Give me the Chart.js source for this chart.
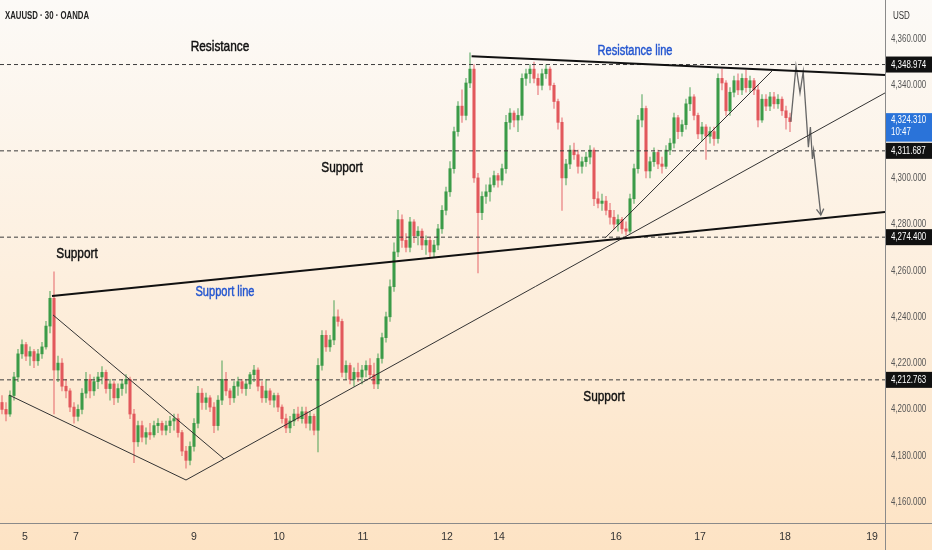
<!DOCTYPE html>
<html><head><meta charset="utf-8">
<script src="https://cdn.jsdelivr.net/npm/chart.js@4.4.1/dist/chart.umd.min.js"></script>
<style>html,body{margin:0;padding:0;background:#fdf0e0;overflow:hidden}canvas{display:block}</style>
</head><body>
<canvas id="c" width="932" height="550" style="width:932px;height:550px"></canvas>
<script>
// ---- Data (30-min candles, XAUUSD) ----
const opens = [
4203,4200,4198,4206,4214,4224,4228,4223,4225,4221,
4224,4227,4236,4248,4217,4220,4210,4208,4201,4197,
4200,4207,4213,4208,4212,4214,4216,4209,4211,4205,
4209,4211,4213,4198,4186,4193,4188,4190,4189,4193,
4194,4191,4193,4195,4196,4190,4182,4178,4184,4194,
4207,4203,4205,4201,4193,4204,4213,4208,4205,4210,
4212,4209,4211,4215,4217,4210,4205,4208,4204,4206,
4201,4196,4192,4195,4198,4196,4199,4194,4197,4191,
4219,4232,4227,4230,4240,4238,4216,4219,4213,4216,
4214,4217,4219,4215,4211,4222,4231,4240,4253,4268,
4282,4273,4270,4281,4275,4277,4271,4273,4268,4271,
4278,4286,4294,4304,4320,4331,4327,4341,4347,4300,
4285,4292,4294,4297,4301,4299,4304,4324,4328,4325,
4327,4343,4345,4347,4343,4340,4345,4347,4340,4333,
4324,4300,4306,4312,4310,4305,4307,4309,4312,4291,
4289,4290,4286,4283,4280,4282,4278,4277,4291,4304,
4325,4330,4303,4307,4311,4306,4305,4312,4315,4326,
4320,4323,4332,4335,4327,4319,4322,4318,4320,4317,
4343,4341,4329,4337,4342,4338,4343,4339,4342,4338,
4325,4334,4331,4335,4332,4334,4329,4326];
const highs = [
4206,4203,4208,4216,4226,4230,4229,4227,4226,4226,
4229,4238,4251,4259.4,4223,4222,4213,4209,4203,4202,
4209,4216,4215,4214,4216,4218.5,4217,4213,4212,4211,
4213,4215,4214,4200,4195,4195,4192,4194,4195,4196,
4195,4195,4197,4198,4198,4191,4184,4186,4196,4210,
4209,4207,4206,4203,4206,4221,4216,4209,4212,4214,
4213,4213,4216,4219,4218,4212,4213,4209,4207,4207,
4202,4198,4197,4200,4201,4201,4201,4199,4198,4222,
4234,4234,4232,4247,4243,4239,4221,4220,4218,4220,
4219,4221,4222,4220,4224,4233,4242,4256,4272,4286,
4284,4276,4283,4282,4279,4278,4275,4274,4273,4280,
4288,4296,4307,4322,4333,4338,4343,4354,4349,4302,
4294,4297,4300,4303,4302,4306,4327,4330,4329,4330,
4345,4347,4349,4350,4345,4347,4349,4348,4341,4334,
4326,4308,4314,4315,4312,4309,4311,4314,4313,4294,
4293,4292,4289,4286,4284,4283,4281,4293,4306,4327,
4336,4331,4309,4313,4312,4309,4314,4317,4328,4327,
4325,4334,4339,4336,4328,4324,4323,4322,4322,4345,
4347,4342,4339,4344,4345,4345,4346.6,4344,4343,4340,
4336,4336,4337,4337,4336,4335,4331,4328];
const lows = [
4198,4195,4197,4204,4212,4222,4221,4219,4218,4219,
4222,4226,4233,4198,4212,4208,4205,4199,4194,4195,
4198,4205,4205,4206,4209,4211,4207,4204,4202,4203,
4206,4207,4196,4177,4184,4186,4185,4187,4188,4190,
4189,4189,4190,4191,4188,4180,4174.6,4176,4182,4192,
4200,4200,4199,4190,4191,4202,4206,4202,4203,4206,
4207,4206,4209,4212,4208,4203,4203,4202,4201,4199,
4194,4190,4190,4193,4195,4194,4192,4191,4189,4181.6,
4217,4225,4225,4228,4236,4214,4213,4211,4210,4212,
4211,4214,4213,4209,4209,4220,4229,4238,4251,4266,
4270,4268,4268,4272,4271,4269,4267,4266,4266,4269,
4276,4284,4292,4302,4318,4324,4325,4339,4298,4259,
4282,4289,4290,4296,4296,4297,4302,4321,4322,4320,
4325,4340,4341,4341,4336,4338,4343,4338,4330,4321,
4286,4297,4304,4308,4302,4302,4305,4306,4288,4287,
4286,4284,4280,4278,4277,4276,4275.3,4276,4289,4302,
4322,4300,4300,4305,4304,4302,4304,4310,4313,4317,
4318,4321,4329,4325,4317,4316,4308,4315,4314,4315,
4338,4327,4327,4335,4336,4336,4337,4337,4336,4322,
4324,4329,4329,4330,4330,4327,4321,4320];
const closes = [
4200,4198,4206,4214,4224,4228,4223,4225,4221,4224,
4227,4236,4248,4217,4220,4210,4208,4201,4197,4200,
4207,4213,4208,4212,4214,4216,4209,4211,4205,4209,
4211,4213,4198,4186,4193,4188,4190,4189,4193,4194,
4191,4193,4195,4196,4190,4182,4178,4184,4194,4207,
4203,4205,4201,4193,4204,4213,4208,4205,4210,4212,
4209,4211,4215,4217,4210,4205,4208,4204,4206,4201,
4196,4192,4195,4198,4196,4199,4194,4197,4191,4219,
4232,4227,4230,4240,4238,4216,4219,4213,4216,4214,
4217,4219,4215,4211,4222,4231,4240,4253,4268,4282,
4273,4270,4281,4275,4277,4271,4273,4268,4271,4278,
4286,4294,4304,4320,4331,4327,4341,4347,4300,4285,
4292,4294,4297,4301,4299,4304,4324,4328,4325,4327,
4343,4345,4347,4343,4340,4345,4347,4340,4333,4324,
4300,4306,4312,4310,4305,4307,4309,4312,4291,4289,
4290,4286,4283,4280,4282,4278,4277,4291,4304,4325,
4330,4303,4307,4311,4306,4305,4312,4315,4326,4320,
4323,4332,4335,4327,4319,4322,4318,4320,4317,4343,
4341,4329,4337,4342,4338,4343,4339,4342,4338,4325,
4334,4331,4335,4332,4334,4329,4326,4324.31];

// x-axis date ticks (in candle-index units) and labels
const dayTicks  = [5.75, 18.5, 48, 69.25, 90.25, 111.25, 124.25, 153.5, 174.5, 195.75, 217.5];
const dayLabels = ['5','7','9','10','11','12','14','16','17','18','19'];
// price axis ticks (4,320 is hidden behind the last-price tag)
const priceTicks = [4160,4180,4200,4220,4240,4260,4280,4300,4340,4360];
// horizontal dashed levels
const levels = [4348.974, 4311.687, 4274.4, 4212.763];
const lastPrice = 4324.31;
const lastTime = '10:47';
// drawn trend lines [candle index, price]
const resistanceLine = [[117.4, 4352.6], [220.75, 4344.5]];
const supportLine    = [[12.5, 4249.0], [220.75, 4285.3]];
const channelLow     = [[1.75, 4206.2], [46, 4169.5]];
const channelHigh    = [[12.75, 4240.8], [55.5, 4178.6]];
const risingLine     = [[46, 4169.5], [220.75, 4336.7]];
const steepLine      = [[150.75, 4274.0], [192.5, 4346.2]];
const projection     = [[197.2, 4324.3], [198.5, 4348.3], [199.5, 4336.7], [200.3, 4345.9], [201.6, 4313.3], [202.1, 4322.0], [202.6, 4308.2], [202.9, 4312.0], [204.7, 4284.0]];

// ---- Presentation ----
const X_MIN = -0.5, X_MAX = 220.75, Y_MIN = 4150.93, Y_MAX = 4376.85;
const FONT = '"Liberation Sans",Arial,sans-serif';
const GREEN = '#3b9b48', RED = '#e2585c';
const GREEN_W = 'rgba(59,155,72,0.55)', RED_W = 'rgba(226,88,92,0.55)';
const up = i => closes[i] >= opens[i];
const idx = opens.map((_, i) => i);
const pts = arr => arr.map(p => ({x: p[0], y: p[1]}));

const notes = [
  {text: 'Resistance', x: 54.5, y: 4356.5, color: '#111', size: 15},
  {text: 'Support', x: 85, y: 4304.3, color: '#111', size: 15},
  {text: 'Support', x: 18.75, y: 4267.1, color: '#111', size: 15},
  {text: 'Support', x: 150.5, y: 4205.3, color: '#111', size: 15},
  {text: 'Resistance line', x: 158.25, y: 4354.8, color: '#2456d0', size: 14},
  {text: 'Support line', x: 55.75, y: 4250.7, color: '#2456d0', size: 14}
];

const lineDs = (arr, color, width, order, dash) => ({
  type: 'line', data: pts(arr), borderColor: color, borderWidth: width,
  borderDash: dash || [], pointRadius: 0, fill: false, tension: 0, order: order
});

const datasets = [
  ...levels.map(v => lineDs([[X_MIN, v], [X_MAX, v]], '#3c3c3c', 1, 2, [4, 3])),
  lineDs(resistanceLine, '#111', 2, 0),
  lineDs(supportLine, '#111', 2, 0),
  lineDs(channelLow, '#333', 1, 1),
  lineDs(channelHigh, '#333', 1, 1),
  lineDs(risingLine, '#333', 1, 1),
  lineDs(steepLine, '#333', 1, 1),
  lineDs(projection, '#666', 1.3, 1),
  {type: 'bar', data: idx.map(i => ({x: i, y: [opens[i], closes[i]]})),
   backgroundColor: c => up(c.dataIndex) ? GREEN : RED,
   barThickness: 2.4, grouped: false, minBarLength: 1, borderWidth: 0, order: 5},
  {type: 'bar', data: idx.map(i => ({x: i, y: [lows[i], highs[i]]})),
   backgroundColor: c => up(c.dataIndex) ? GREEN_W : RED_W,
   barThickness: 1, grouped: false, borderWidth: 0, order: 6}
];

const fmt = v => v.toLocaleString('en-US', {minimumFractionDigits: 3, maximumFractionDigits: 3});

function narrow(ctx, text, x, y, align, sx, thick) {
  ctx.save();
  ctx.translate(x, y);
  ctx.scale(sx, 1);
  ctx.textAlign = align;
  ctx.textBaseline = 'middle';
  ctx.fillText(text, 0, 0);
  if (thick) {
    ctx.strokeStyle = ctx.fillStyle;
    ctx.lineWidth = thick;
    ctx.strokeText(text, 0, 0);
  }
  ctx.restore();
}

const bgPlugin = {
  id: 'bg',
  beforeDraw(chart) {
    const {ctx, width, height} = chart;
    const g = ctx.createLinearGradient(0, 0, 0, height);
    g.addColorStop(0, '#fcfaf7');
    g.addColorStop(0.5, '#fdefde');
    g.addColorStop(1, '#fde3c4');
    ctx.save(); ctx.fillStyle = g; ctx.fillRect(0, 0, width, height); ctx.restore();
  }
};

const overlay = {
  id: 'overlay',
  afterDraw(chart) {
    const {ctx, chartArea: a, width, height} = chart;
    const xs = chart.scales.x, ys = chart.scales.y;
    ctx.save();
    // axis separators
    ctx.strokeStyle = '#8a8a8a'; ctx.lineWidth = 1;
    ctx.beginPath(); ctx.moveTo(Math.round(a.right) + 0.5, 0); ctx.lineTo(Math.round(a.right) + 0.5, height); ctx.stroke();
    ctx.beginPath(); ctx.moveTo(0, Math.round(a.bottom) + 0.5); ctx.lineTo(width, Math.round(a.bottom) + 0.5); ctx.stroke();

    // arrow head of projection
    const n = projection.length;
    const ex = xs.getPixelForValue(projection[n - 1][0]), ey = ys.getPixelForValue(projection[n - 1][1]);
    const px = xs.getPixelForValue(projection[n - 2][0]), py = ys.getPixelForValue(projection[n - 2][1]);
    const ang = Math.atan2(ey - py, ex - px);
    ctx.strokeStyle = '#666'; ctx.lineWidth = 1.3;
    ctx.beginPath();
    ctx.moveTo(ex - 7 * Math.cos(ang - 0.55), ey - 7 * Math.sin(ang - 0.55));
    ctx.lineTo(ex, ey);
    ctx.lineTo(ex - 7 * Math.cos(ang + 0.55), ey - 7 * Math.sin(ang + 0.55));
    ctx.stroke();

    // notes
    notes.forEach(nt => {
      ctx.font = nt.size + 'px ' + FONT;
      ctx.fillStyle = nt.color;
      narrow(ctx, nt.text, xs.getPixelForValue(nt.x), ys.getPixelForValue(nt.y), 'center', 0.79, 0.45);
    });

    // title and unit
    ctx.font = 'bold 10px ' + FONT; ctx.fillStyle = '#222';
    narrow(ctx, 'XAUUSD · 30 · OANDA', 5, 16, 'left', 0.78);
    ctx.font = '10px ' + FONT; ctx.fillStyle = '#333';
    narrow(ctx, 'USD', 893, 16, 'left', 0.8);

    // price axis tick labels (positions from the library's y scale)
    const left = Math.round(a.right) + 1;
    ctx.font = '11px ' + FONT;
    ctx.fillStyle = '#555';
    ys.ticks.forEach(t => {
      narrow(ctx, fmt(t.value), left + 5, ys.getPixelForValue(t.value), 'left', 0.72);
    });

    // price tags
    levels.forEach(v => {
      const y = ys.getPixelForValue(v);
      ctx.fillStyle = '#111';
      ctx.fillRect(left, y - 8, width - left, 16);
      ctx.fillStyle = '#fff';
      narrow(ctx, fmt(v), left + 5, y, 'left', 0.72);
    });
    const yl = ys.getPixelForValue(lastPrice);
    ctx.fillStyle = '#2a73d9';
    ctx.fillRect(left, yl - 8.5, width - left, 28.5);
    ctx.fillStyle = '#fff';
    narrow(ctx, fmt(lastPrice), left + 5, yl - 2, 'left', 0.72);
    narrow(ctx, lastTime, left + 5, yl + 10, 'left', 0.72);
    ctx.restore();
  }
};

new Chart(document.getElementById('c'), {
  type: 'bar',
  data: {datasets},
  options: {
    responsive: false,
    animation: false,
    layout: {padding: 0},
    plugins: {legend: {display: false}, tooltip: {enabled: false}},
    scales: {
      x: {
        type: 'linear', min: X_MIN, max: X_MAX, offset: false,
        grid: {display: false, drawTicks: false}, border: {display: false},
        afterBuildTicks: s => { s.ticks = dayTicks.map(v => ({value: v})); },
        afterFit: s => { s.height = 27; s.paddingLeft = 0; s.paddingRight = 0; },
        ticks: {autoSkip: false, maxRotation: 0, padding: 8, color: '#333',
          font: {family: FONT, size: 10.5},
          callback: v => dayLabels[dayTicks.indexOf(v)] ?? ''}
      },
      y: {
        type: 'linear', position: 'right', min: Y_MIN, max: Y_MAX,
        grid: {display: false, drawTicks: false}, border: {display: false},
        afterBuildTicks: s => { s.ticks = priceTicks.map(v => ({value: v})); },
        afterFit: s => { s.width = 47; s.paddingTop = 0; s.paddingBottom = 0; },
        ticks: {display: false}
      }
    }
  },
  plugins: [bgPlugin, overlay]
});
</script>
</body></html>
